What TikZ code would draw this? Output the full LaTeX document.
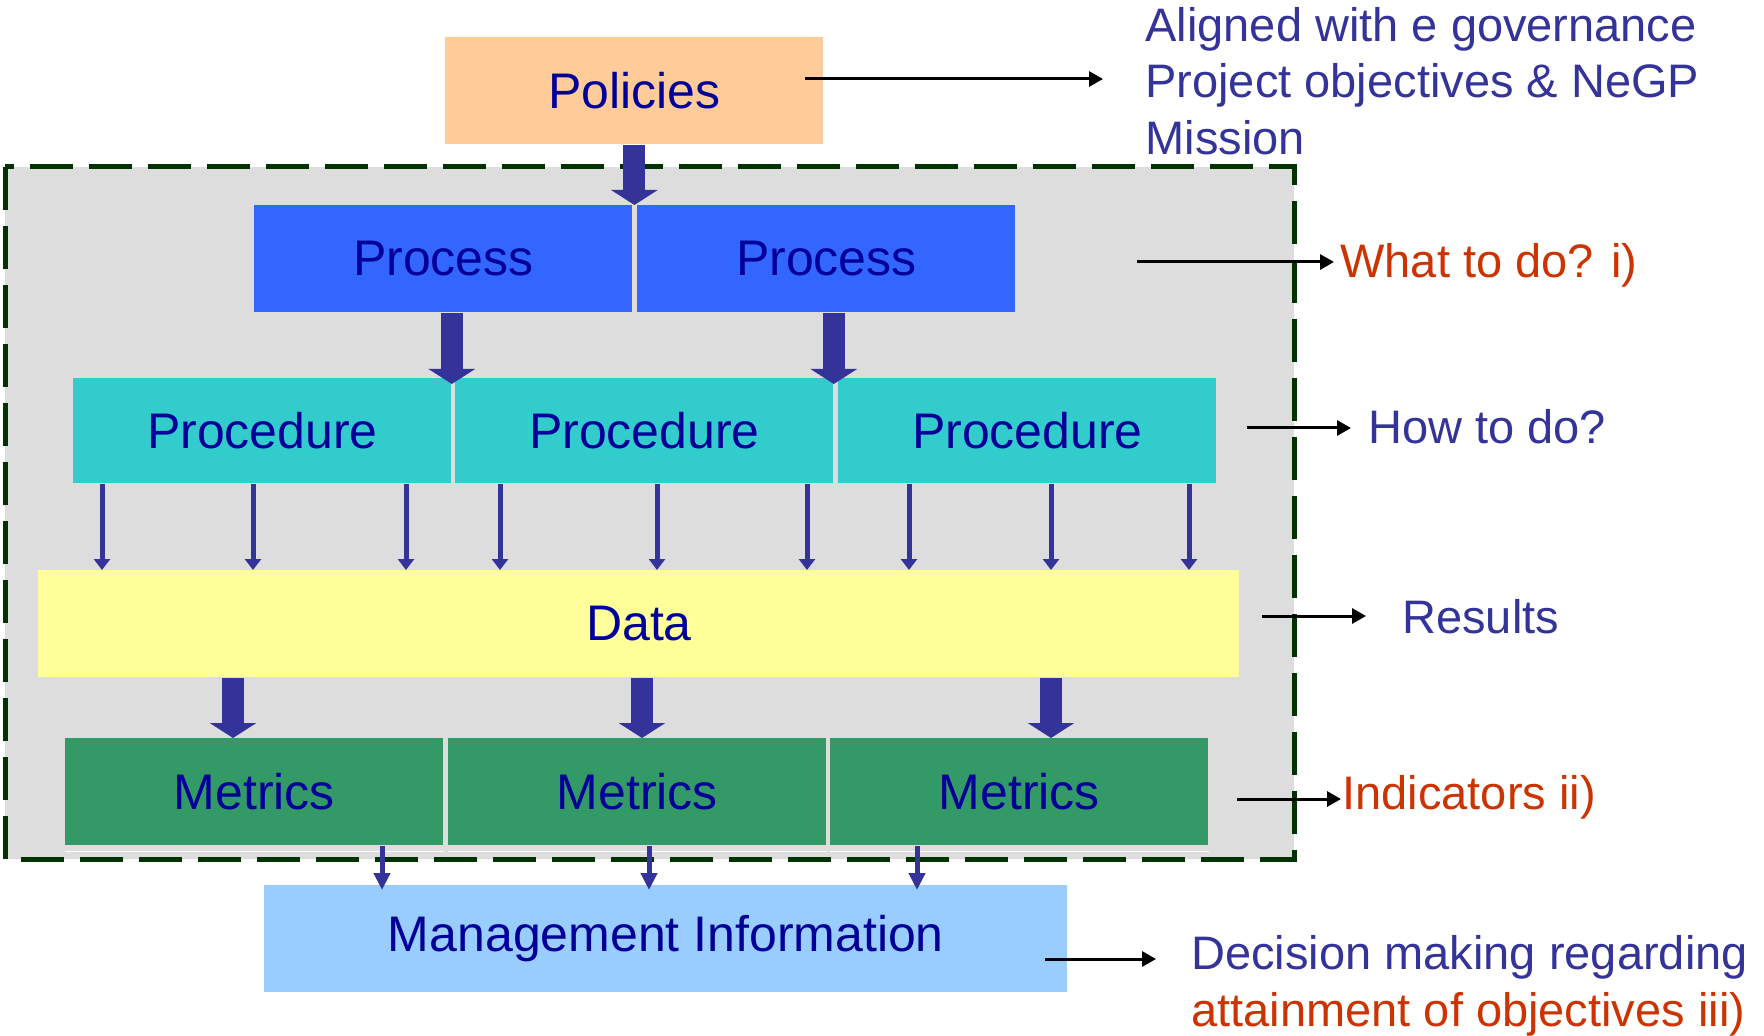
\documentclass[tikz,border=0pt]{standalone}
\usepackage{fontspec}
\setmainfont{Liberation Sans}
\usetikzlibrary{arrows.meta}
\definecolor{navytext}{HTML}{000099}
\definecolor{sideblue}{HTML}{333399}
\definecolor{sidered}{HTML}{CC3300}
\definecolor{arrowblue}{HTML}{333399}
\definecolor{polfill}{HTML}{FFCC99}
\definecolor{procfill}{HTML}{3366FF}
\definecolor{procdfill}{HTML}{33CCCC}
\definecolor{datafill}{HTML}{FFFF99}
\definecolor{metfill}{HTML}{339966}
\definecolor{mifill}{HTML}{99CCFF}
\definecolor{framegreen}{HTML}{003300}
\definecolor{framegray}{HTML}{DDDDDD}

\begin{document}
\begin{tikzpicture}[x=0.5pt,y=0.5pt,yscale=-1,xscale=1,
  box/.style={anchor=north west,inner sep=0pt,minimum width=189pt,minimum height=53.5pt,text=navytext,font=\fontsize{25}{30}\selectfont},
  sidetext/.style={anchor=base west,inner sep=0pt,text=sideblue,font=\fontsize{23.5}{28}\selectfont},
  bigarrow/.style={draw=arrowblue,line width=11pt,-{Triangle[width=23pt,length=7.5pt]}},
  thinarrow/.style={draw=arrowblue,line width=2.5pt,-{Triangle[width=8pt,length=5.5pt]}},
  longtip/.style={draw=arrowblue,line width=2.5pt,-{Triangle[width=8pt,length=8.5pt]},shorten >=-2.5pt},
  sidearrow/.style={draw=black,line width=1.5pt,-{Triangle[width=7.5pt,length=7pt]}}]
\useasboundingbox (0,0) rectangle (1764,1036);

%Shape: Rectangle [dashed frame]
\draw[draw=framegreen,fill=framegray,line width=2.5pt,dash pattern=on 21.5pt off 8pt] (5,167) rectangle (1294,859);

%Shape: Rectangle [boxes]
\node[box,fill=polfill] (pol) at (445,37) {Policies};
\node[box,fill=procfill] (procA) at (254,205) {Process};
\node[box,fill=procfill] (procB) at (637,205) {Process};
\node[box,fill=procdfill,minimum height=52.5pt] (procdA) at (73,378) {Procedure};
\node[box,fill=procdfill,minimum height=52.5pt] (procdB) at (455,378) {Procedure};
\node[box,fill=procdfill,minimum height=52.5pt] (procdC) at (838,378) {Procedure};
\node[box,fill=datafill,minimum width=600.5pt] (data) at (38,570) {Data};
\node[box,fill=metfill] (metA) at (65,738) {Metrics};
\node[box,fill=metfill] (metB) at (448,738) {Metrics};
\node[box,fill=metfill] (metC) at (830,738) {Metrics};
\node[box,fill=mifill,minimum width=401.5pt] (mi) at (264,885) {Management Information};

%Straight Lines [white rule in metrics]
\foreach \m in {metA,metB,metC}
  \draw[white,line width=0.5pt] ([yshift=3pt]\m.south west) -- ([yshift=3pt]\m.south east);

%Block Arrows
\draw[bigarrow] (pol.south) -- (pol.south |- procA.north);
\draw[bigarrow] (procdA.north east |- procA.south) -- ([yshift=3pt]procdA.north east);
\draw[bigarrow] (procdB.north east |- procB.south) -- ([yshift=3pt]procdB.north east);
\foreach \x in {233,642,1051}
  \draw[bigarrow] (\x,0 |- data.south) -- (\x,0 |- metA.north);

%Straight Lines [thin arrows]
\foreach \x in {102,253,406,500,657,807,909,1051,1189}
  \draw[thinarrow] (\x,0 |- procdA.south) -- (\x,0 |- data.north);
\foreach \x in {382,649,917}
  \draw[longtip] (\x,0 |- metA.south) -- (\x,0 |- mi.north);

% Text Node
\node[sidetext] (algA) at (1145,42) {Aligned with e governance};
\node[sidetext] (algB) at (1145,98) {Project objectives \& NeGP};
\node[sidetext] (algC) at (1145,155) {Mission};
\node[sidetext,text=sidered] (what) at (1340,278) {What to do? i)};
\node[sidetext] (how) at (1368,444) {How to do?};
\node[sidetext] (res) at (1402,633) {Results};
\node[sidetext,text=sidered] (ind) at (1342,809) {Indicators ii)};
\node[sidetext] (decA) at (1191,969) {Decision making regarding};
\node[sidetext,text=sidered] (decB) at (1191,1026) {attainment of objectives iii)};

%Straight Lines [side arrows]
\coordinate (polout) at (805,79);
\coordinate (whatout) at (1137,262);
\coordinate (howout) at (1247,428);
\coordinate (resout) at (1262,616);
\coordinate (indout) at (1237,799);
\coordinate (decout) at (1045,959);
\draw[sidearrow] (polout) -- (1103,79);
\draw[sidearrow] (whatout) -- (1334,262);
\draw[sidearrow] (howout) -- (1351,428);
\draw[sidearrow] (resout) -- (1366,616);
\draw[sidearrow] (indout) -- (1341,799);
\draw[sidearrow] (decout) -- (1156,959);

\end{tikzpicture}
\end{document}
